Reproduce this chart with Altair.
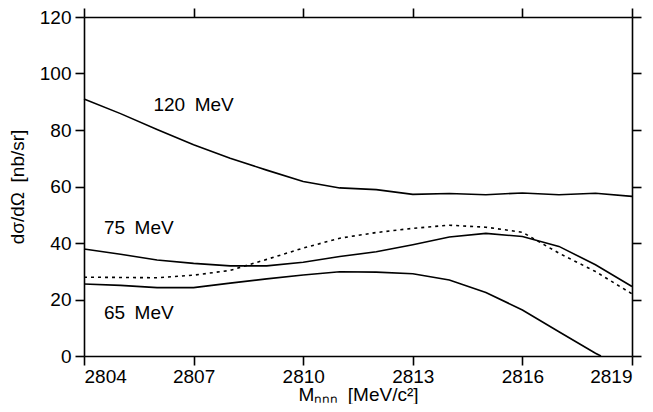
import altair as alt
import pandas as pd

# x positions (MeV/c^2)
mass = [2804, 2805, 2806, 2807, 2808, 2809, 2810, 2811, 2812, 2813, 2814, 2815, 2816, 2817, 2818, 2819]

mev120 = [91.0, 85.8, 80.2, 74.8, 70.0, 65.8, 61.8, 59.5, 58.9, 57.2, 57.5, 57.1, 57.7, 57.1, 57.6, 56.5]
mev75 = [37.9, 36.0, 34.0, 32.8, 31.9, 31.9, 33.2, 35.2, 36.9, 39.4, 42.1, 43.4, 42.3, 38.8, 32.3, 24.6]
dotted = [27.9, 27.8, 27.7, 28.6, 30.3, 34.2, 38.2, 41.7, 43.7, 45.2, 46.3, 45.6, 43.8, 36.4, 29.9, 22.0]
mass65 = [2804, 2805, 2806, 2807, 2808, 2809, 2810, 2811, 2812, 2813, 2814, 2815, 2816, 2817, 2818, 2818.15]
mev65 = [25.5, 25.0, 24.2, 24.2, 25.8, 27.3, 28.7, 29.8, 29.7, 29.1, 26.9, 22.5, 16.3, 8.6, 1.0, 0.0]

label_text = ["120\u2002MeV", "75\u2002MeV", "65\u2002MeV"]
label_x = [2807.0, 2805.5, 2805.5]
label_y = [89.0, 45.4, 15.2]

x_ticks = [2804, 2807, 2810, 2813, 2816, 2819]
y_ticks = [0, 20, 40, 60, 80, 100, 120]

FONT = "Liberation Sans"

solid_rows = []
for name, xs, ys in [("120", mass, mev120), ("75", mass, mev75), ("65", mass65, mev65)]:
    for xv, yv in zip(xs, ys):
        solid_rows.append({"m": xv, "v": yv, "s": name})
solid_df = pd.DataFrame(solid_rows)
dot_df = pd.DataFrame({"m": mass, "v": dotted})
lab_df = pd.DataFrame({"t": label_text, "m": label_x, "v": label_y})

xscale = alt.Scale(domain=[2804, 2819], nice=False, zero=False)
yscale = alt.Scale(domain=[0, 120], nice=False)

x_bottom = alt.X("m:Q", scale=xscale,
                 axis=alt.Axis(values=x_ticks, format="d", title="M\u2099\u2099\u2099\u2002[MeV/c\u00b2]",
                               titleBaseline="alphabetic", titleY=44, labelPadding=2))
y_left = alt.Y("v:Q", scale=yscale,
               axis=alt.Axis(values=y_ticks, title="d\u03c3/d\u03a9\u2002[nb/sr]", titlePadding=12,
                             labelPadding=4))

solid = alt.Chart(solid_df).mark_line(color="black", strokeWidth=1.6).encode(
    x=x_bottom, y=y_left, detail="s:N")

dots = alt.Chart(dot_df).mark_line(color="black", strokeWidth=1.6, strokeDash=[3, 4]).encode(
    x=alt.X("m:Q", scale=xscale, axis=None), y=alt.Y("v:Q", scale=yscale, axis=None))

labels = alt.Chart(lab_df).mark_text(font=FONT, fontSize=19, color="black", align="center",
                                     baseline="middle").encode(
    x=alt.X("m:Q", scale=xscale, axis=None), y=alt.Y("v:Q", scale=yscale, axis=None), text="t:N")

frame = alt.Chart(dot_df).mark_point(opacity=0).encode(
    x=alt.X("m:Q", scale=xscale,
            axis=alt.Axis(orient="top", values=x_ticks, labels=False, title=None)),
    y=alt.Y("v:Q", scale=yscale,
            axis=alt.Axis(orient="right", values=y_ticks, labels=False, title=None)))

chart = alt.layer(solid, dots, labels, frame).resolve_axis(
    x="independent", y="independent"
).properties(
    width=548, height=339,
    autosize=alt.AutoSizeParams(type="none"),
    padding={"left": 76, "top": 9, "right": 13, "bottom": 48},
).configure_view(stroke=None).configure_axis(
    grid=False, domainColor="black", domainWidth=1.6, tickColor="black", tickWidth=1.6,
    tickSize=9, labelFont=FONT, labelFontSize=19, labelColor="black", titleFont=FONT,
    titleFontSize=19, titleFontWeight="normal", titleColor="black"
)

chart.save("out.html", embed_options={"renderer": "svg", "actions": False})
